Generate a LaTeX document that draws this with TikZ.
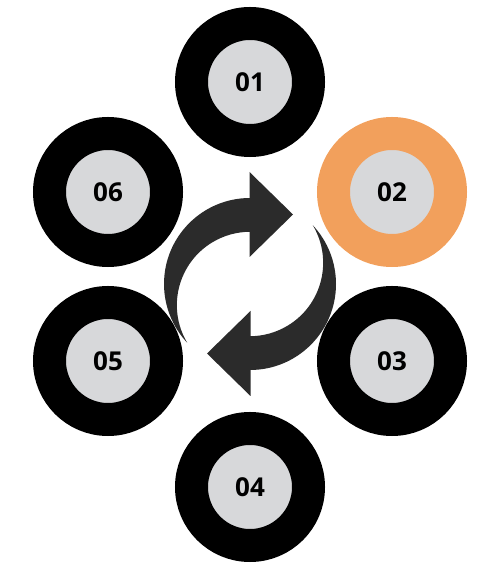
\documentclass[tikz,border=0pt]{standalone}
\usepackage{fontspec}
\setmainfont{Open Sans}
\definecolor{ringorange}{RGB}{242,160,92}
\definecolor{discgray}{RGB}{215,216,218}
\definecolor{arrowdark}{RGB}{43,43,43}
\tikzset{
  ring/.style={circle, draw=black, line width=33pt, fill=discgray,
    minimum size=117pt, inner sep=0pt,
    font=\fontsize{26}{26}\selectfont\bfseries},
  hot/.style={draw=ringorange}
}
\begin{document}
\begin{tikzpicture}[x=1pt, y=1pt]
  \useasboundingbox (0,0) rectangle (477,565);

  % Steps
  \node[ring] (s01) at (250,483) {01};
  \node[ring, hot] (s02) at (392,373) {02};
  \node[ring] (s03) at (392,204) {03};
  \node[ring] (s04) at (250,78) {04};
  \node[ring] (s05) at (108,204) {05};
  \node[ring] (s06) at (108,373) {06};

  % Cycle arrows
  \coordinate (mid) at (250,281);
  \foreach \ang in {0,180} {
    \begin{scope}[rotate around={\ang:(mid)}]
      \fill[arrowdark] (250,367) arc[start angle=90, end angle=223.1, radius=86]
        arc[start angle=210.8, end angle=90, radius=73.4] -- cycle;
      \fill[arrowdark] (249.5,393) -- (293,350.5) -- (249.5,308) -- cycle;
    \end{scope}
  }
\end{tikzpicture}
\end{document}
